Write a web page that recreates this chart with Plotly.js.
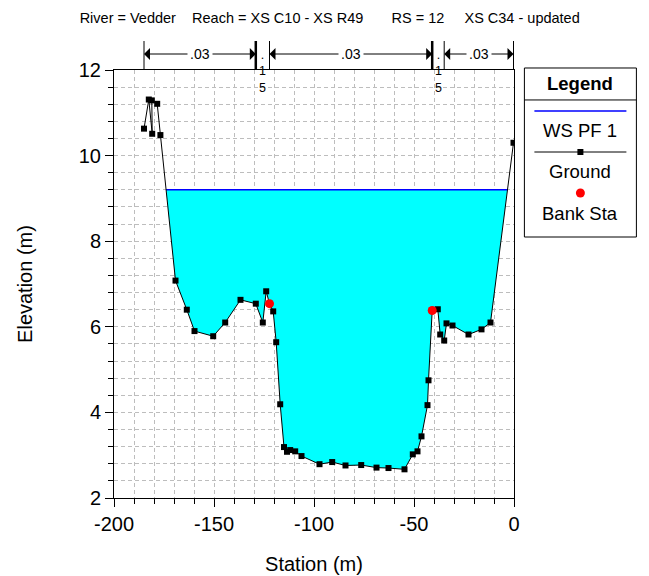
<!DOCTYPE html>
<html><head><meta charset="utf-8">
<script src="https://cdn.plot.ly/plotly-3.0.1.min.js"></script>
<style>html,body{margin:0;padding:0;background:#fff}</style>
</head><body><div id="chart" style="width:649px;height:576px"></div>
<script>
// ---- data ----
const groundStation = [-185.0, -182.6, -180.9, -181.1, -178.4, -176.8, -169.25, -163.6, -159.75, -150.4,
  -144.4, -136.75, -129.1, -125.6, -123.9, -122.25, -120.4, -118.9, -116.9, -115.0,
  -113.5, -111.9, -109.4, -106.25, -97.25, -90.9, -84.25, -76.4, -68.75, -62.75,
  -54.75, -50.6, -48.25, -46.25, -43.25, -42.75, -40.9, -38.1, -36.9, -34.9,
  -33.75, -30.75, -22.75, -16.25, -11.75, -0.25];
const groundElev = [10.63, 11.31, 10.51, 11.29, 11.21, 10.48, 7.08, 6.40, 5.90, 5.78,
  6.10, 6.63, 6.54, 6.10, 6.83, 6.54, 6.36, 5.64, 4.19, 3.19,
  3.08, 3.12, 3.09, 2.98, 2.79, 2.84, 2.76, 2.77, 2.71, 2.70,
  2.67, 3.02, 3.09, 3.44, 4.17, 4.75, 6.38, 6.41, 5.82, 5.68,
  6.08, 6.03, 5.82, 5.94, 6.10, 10.30];
const bankStation = [-122.25, -40.9];
const bankElev = [6.54, 6.38];
const wsElev = 9.2;
const nStart = [-185.0, -129.1, -122.25, -40.9, -34.9];
const nValue = [0.03, 0.15, 0.03, 0.15, 0.03];
const xTickVals = [-200, -150, -100, -50, 0];
const yTickVals = [2, 4, 6, 8, 10, 12];
const titleText = 'River = Vedder    Reach = XS C10 - XS R49       RS = 12     XS C34 - updated';
const legendNames = ['WS PF 1', 'Ground', 'Bank Sta'];

// ---- derived ----
const FONT = 'Liberation Sans, Arial, Helvetica, sans-serif';
const plotH = 428;
const first = groundElev.findIndex(v => v < wsElev);
const last = groundElev.length - 1 - groundElev.slice().reverse().findIndex(v => v < wsElev);
function cross(i, j) {
  const t = (wsElev - groundElev[i]) / (groundElev[j] - groundElev[i]);
  return groundStation[i] + t * (groundStation[j] - groundStation[i]);
}
const xL = cross(first - 1, first), xR = cross(last, last + 1);
const polyX = [xL].concat(groundStation.slice(first, last + 1), [xR]);
const polyY = [wsElev].concat(groundElev.slice(first, last + 1), [wsElev]);

const traces = [
  {x: polyX, y: polyY, mode: 'lines', fill: 'toself', fillcolor: '#00FFFF',
   line: {width: 0}, hoverinfo: 'skip', showlegend: false},
  {x: [xL, xR], y: [wsElev, wsElev], mode: 'lines', name: legendNames[0],
   line: {color: '#0000FF', width: 1.5}, showlegend: false},
  {x: groundStation, y: groundElev, mode: 'lines+markers', name: legendNames[1],
   line: {color: '#000', width: 1}, marker: {symbol: 'square', size: 6, color: '#000'}, showlegend: false},
  {x: bankStation, y: bankElev, mode: 'markers', name: legendNames[2],
   marker: {symbol: 'circle', size: 9, color: '#FF0000'}, showlegend: false}
];

const shapes = [], annotations = [];
const yArrow = 1 + 16 / plotH, yBarTop = 1 + 29 / plotH;
const nEnd = nStart.slice(1).concat([groundStation[groundStation.length - 1]]);
const bars = [nStart[0]].concat(nEnd);
bars.forEach((b, i) => {
  const dbl = (i === 1 || i === 3);
  shapes.push({type: 'line', xref: 'x', yref: 'paper', x0: b, x1: b, y0: 1, y1: yBarTop,
    line: {color: '#000', width: dbl ? 2.5 : 1}});
});
nValue.forEach((v, i) => {
  const a = nStart[i], b = nEnd[i], c = (a + b) / 2;
  const label = v.toFixed(2).replace(/^0/, '');
  if (b - a > 12) {
    [a, b].forEach(end => annotations.push({xref: 'x', yref: 'paper', x: end, y: yArrow,
      axref: 'x', ayref: 'pixel', ax: c, ay: 0, text: '', showarrow: true,
      arrowhead: 1, arrowsize: 2, arrowwidth: 1, arrowcolor: '#000'}));
    annotations.push({xref: 'x', yref: 'paper', x: c, y: yArrow, text: label, showarrow: false,
      xanchor: 'center', yanchor: 'middle',
      bgcolor: '#fff', borderpad: 2, font: {family: FONT, size: 14, color: '#000'}});
  } else {
    annotations.push({xref: 'x', yref: 'paper', x: c, y: 1, yshift: -1, yanchor: 'middle',
      xanchor: 'center', text: label.split('').join('<br>'), showarrow: false,
      font: {family: FONT, size: 12.5, color: '#000'}});
  }
});

// custom legend box
const lx0 = 1.026, lx1 = 1.306, lxc = (lx0 + lx1) / 2, ll0 = 1.051, ll1 = 1.281;
shapes.push({type: 'rect', xref: 'paper', yref: 'paper', x0: lx0, x1: lx1, y0: 0.6098, y1: 1.0047,
  line: {color: '#000', width: 1}});
shapes.push({type: 'line', xref: 'paper', yref: 'paper', x0: lx0, x1: lx1, y0: 0.93, y1: 0.93,
  line: {color: '#000', width: 1}});
shapes.push({type: 'line', xref: 'paper', yref: 'paper', x0: ll0, x1: ll1, y0: 0.904, y1: 0.904,
  line: {color: '#0000FF', width: 1.5}});
shapes.push({type: 'line', xref: 'paper', yref: 'paper', x0: ll0, x1: ll1, y0: 0.8084, y1: 0.8084,
  line: {color: '#000', width: 1}});
shapes.push({type: 'rect', xref: 'paper', yref: 'paper', xsizemode: 'pixel', ysizemode: 'pixel',
  xanchor: lxc, yanchor: 0.8084, x0: -3, x1: 3, y0: -3, y1: 3, fillcolor: '#000', line: {width: 0}});
shapes.push({type: 'circle', xref: 'paper', yref: 'paper', xsizemode: 'pixel', ysizemode: 'pixel',
  xanchor: lxc, yanchor: 0.7126, x0: -4.5, x1: 4.5, y0: -4.5, y1: 4.5, fillcolor: '#FF0000', line: {width: 0}});
[['<b>Legend</b>', 0.9696], [legendNames[0], 0.8575], [legendNames[1], 0.7617], [legendNames[2], 0.6636]]
  .forEach(([t, y]) => annotations.push({xref: 'paper', yref: 'paper', x: lxc, y: y, text: t,
    showarrow: false, xanchor: 'center', yanchor: 'middle', font: {family: FONT, size: 18.5, color: '#000'}}));

const gridStyle = {gridcolor: '#bdbdbd', griddash: '4px,3px', gridwidth: 1};
const layout = {
  width: 649, height: 576,
  margin: {l: 114, r: 135, t: 70, b: 78},
  paper_bgcolor: '#fff', plot_bgcolor: '#fff',
  font: {family: FONT, color: '#000'},
  title: {text: titleText.replace(/ /g, '\u00A0'), xref: 'container', yref: 'container',
    x: 0.508, y: 1 - 18 / 576, xanchor: 'center', yanchor: 'middle',
    font: {family: FONT, size: 14.5, color: '#000'}},
  xaxis: Object.assign({
    range: [-200, 0], tickmode: 'array', tickvals: xTickVals, ticktext: xTickVals.map(String),
    ticks: 'outside', ticklen: 8, tickcolor: '#000', showline: true, linecolor: '#000', linewidth: 1,
    mirror: true, zeroline: false, showgrid: true,
    tickfont: {family: FONT, size: 20, color: '#000'},
    minor: Object.assign({tickmode: 'linear', tick0: -200, dtick: 10, ticks: 'outside', ticklen: 5,
      tickcolor: '#000', showgrid: true}, gridStyle),
    title: {text: 'Station (m)', standoff: 22, font: {family: FONT, size: 20, color: '#000'}}
  }, gridStyle),
  yaxis: Object.assign({
    range: [2, 12], tickmode: 'array', tickvals: yTickVals, ticktext: yTickVals.map(String),
    ticks: 'outside', ticklen: 8, tickcolor: '#000', showline: true, linecolor: '#000', linewidth: 1,
    mirror: true, zeroline: false, showgrid: true,
    tickfont: {family: FONT, size: 20, color: '#000'},
    minor: Object.assign({tickmode: 'linear', tick0: 2, dtick: 0.4, ticks: 'outside', ticklen: 5,
      tickcolor: '#000', showgrid: true}, gridStyle),
    title: {text: 'Elevation (m)', standoff: 40, font: {family: FONT, size: 20, color: '#000'}}
  }, gridStyle),
  shapes: shapes,
  annotations: annotations,
  showlegend: false
};
Plotly.newPlot('chart', traces, layout, {displayModeBar: false, staticPlot: true});
</script></body></html>
